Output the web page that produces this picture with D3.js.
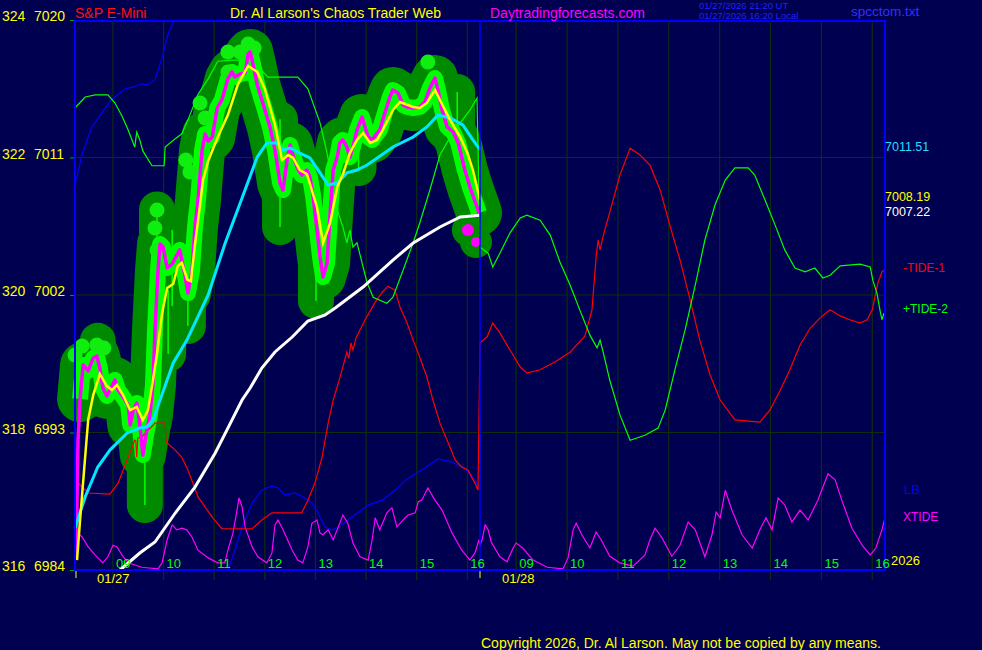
<!DOCTYPE html>
<html><head><meta charset="utf-8">
<script src="https://cdn.jsdelivr.net/npm/d3@7"></script>
<style>
html,body{margin:0;padding:0;background:#000050;}
svg{display:block;}
text{font-family:"Liberation Sans",Arial,sans-serif;}
</style></head><body>
<svg id="c" width="982" height="650"></svg>
<script>
// ---------- DATA ----------
const priceTicks=[6984,6993,7002,7011,7020];
const altTicks=[316,318,320,322,324];
const hours=[9,10,11,12,13,14,15,16];
const hourLabels=["09","10","11","12","13","14","15","16"];
const dates=["01/27","01/28"];
const lastValues={cyan:7011.51,yellow:7008.19,white:7007.22};

// price (close) day 1 [hour, price]
const price=[[8.27,6984.65],[8.31,6992.51],[8.35,6995.19],[8.41,6997.42],[8.51,6997.03],[8.61,6997.88],[8.68,6998.01],[8.74,6997.22],[8.80,6995.91],[8.88,6995.39],[8.94,6995.78],[9.04,6996.44],[9.10,6995.78],[9.20,6995.32],[9.30,6994.80],[9.34,6993.49],[9.40,6994.47],[9.47,6994.93],[9.53,6993.49],[9.59,6991.53],[9.67,6993.16],[9.73,6994.15],[9.79,6996.11],[9.83,6999.71],[9.89,7003.64],[9.93,7005.34],[9.99,7005.14],[10.07,7003.77],[10.17,7004.03],[10.23,7004.42],[10.32,7004.95],[10.42,7003.31],[10.48,7002.13],[10.56,7003.57],[10.62,7006.45],[10.68,7008.22],[10.76,7011.49],[10.82,7012.54],[10.88,7012.08],[10.96,7012.34],[11.06,7014.24],[11.15,7014.76],[11.27,7016.14],[11.35,7016.60],[11.41,7016.27],[11.51,7016.47],[11.61,7016.53],[11.67,7017.78],[11.71,7017.91],[11.77,7017.06],[11.85,7015.75],[11.96,7014.57],[12.10,7013.00],[12.20,7011.49],[12.30,7009.33],[12.36,7008.87],[12.44,7010.84],[12.50,7011.82],[12.56,7011.10],[12.64,7010.31],[12.73,7009.85],[12.83,7010.18],[12.89,7009.72],[12.95,7008.55],[13.03,7006.25],[13.09,7004.49],[13.15,7003.18],[13.23,7004.10],[13.29,7007.37],[13.35,7010.18],[13.43,7011.03],[13.48,7011.95],[13.54,7012.15],[13.62,7011.69],[13.68,7011.03],[13.74,7011.69],[13.82,7012.80],[13.92,7013.65],[13.98,7013.00],[14.04,7012.34],[14.12,7012.15],[14.22,7012.60],[14.27,7012.80],[14.37,7013.91],[14.47,7014.96],[14.53,7015.42],[14.63,7015.22],[14.73,7014.44],[14.81,7014.31],[14.93,7014.24],[15.06,7014.31],[15.16,7014.63],[15.26,7015.55],[15.36,7016.20],[15.42,7015.42],[15.50,7014.11],[15.60,7013.00],[15.72,7012.67],[15.82,7011.95],[15.95,7010.18],[16.05,7009.07],[16.19,7007.76],[16.23,7007.37]];
const haloStart=2; // first bars that carry the halo

// bar spikes [hour, low, high]
const spikes=[[9.63,6988.25,6993.16],[10.09,6998.14,7002.33],[10.17,7001.28,7006.25],[10.48,6999.97,7003.64],[12.30,7006.45,7013.5],[13.01,7001.61,7008.22],[15.80,7011.49,7015.29],[9.87,6998.14,7007.6],[8.70,6995.5,6999.0],[13.85,7010.3,7013.9]];

// bright swing dots [hour, price]
const swingDots=[[8.25,6998.07],[8.39,6998.66],[8.68,6998.73],[8.82,6998.53],[9.87,7007.56],[9.83,7006.39],[9.87,7004.95],[10.44,7010.84],[10.52,7010.05],[10.72,7014.57],[10.82,7013.59],[11.27,7016.60],[11.27,7017.91],[11.51,7017.91],[11.67,7018.43],[11.79,7018.17],[15.22,7017.25]];
const endDots=[[16.01,7006.25],[16.17,7005.47]];

// yellow average
const yellowAvg=[[8.29,6984.65],[8.35,6987.27],[8.43,6990.55],[8.51,6993.82],[8.61,6995.45],[8.74,6996.83],[8.88,6996.04],[8.98,6995.78],[9.08,6996.11],[9.20,6995.45],[9.34,6994.47],[9.47,6994.67],[9.59,6993.82],[9.69,6994.47],[9.79,6996.44],[9.87,6998.14],[9.97,7000.82],[10.07,7002.46],[10.19,7002.72],[10.28,7003.9],[10.36,7004.1],[10.47,7003.0],[10.54,7002.9],[10.62,7005.3],[10.72,7007.9],[10.78,7009.53],[10.88,7010.77],[11.07,7012.34],[11.27,7013.78],[11.47,7015.81],[11.67,7016.99],[11.85,7016.60],[12.00,7015.48],[12.20,7013.13],[12.34,7010.84],[12.46,7011.16],[12.56,7010.97],[12.69,7010.18],[12.83,7009.92],[13.03,7007.76],[13.15,7005.40],[13.29,7006.71],[13.43,7009.07],[13.55,7009.99],[13.68,7011.29],[13.82,7012.15],[13.94,7012.60],[14.08,7011.95],[14.22,7012.15],[14.33,7012.80],[14.53,7014.11],[14.67,7014.63],[14.93,7014.31],[15.06,7014.24],[15.20,7014.57],[15.36,7015.42],[15.46,7014.76],[15.66,7013.45],[15.86,7012.34],[16.00,7011.29],[16.11,7010.18],[16.25,7008.19]];

// cyan average
const cyanAvg=[[8.25,6986.75],[8.45,6988.78],[8.70,6990.74],[8.94,6991.85],[9.28,6992.97],[9.53,6993.29],[9.67,6993.36],[9.79,6993.82],[9.93,6995.13],[10.19,6997.55],[10.46,6999.05],[10.88,7002.00],[11.21,7005.34],[11.55,7008.35],[11.85,7011.03],[12.04,7011.95],[12.24,7011.95],[12.36,7011.49],[12.50,7011.62],[12.69,7011.29],[12.89,7010.97],[13.09,7009.99],[13.25,7009.20],[13.43,7009.33],[13.62,7009.99],[13.82,7010.18],[14.02,7010.51],[14.22,7010.97],[14.53,7011.69],[14.93,7012.34],[15.20,7013.00],[15.42,7013.78],[15.66,7013.59],[15.91,7013.13],[16.11,7012.15],[16.25,7011.51]];

// white average
const whiteAvg=[[9.14,6984.00],[9.53,6985.11],[9.83,6985.83],[10.23,6987.73],[10.62,6989.43],[11.02,6991.66],[11.27,6993.29],[11.55,6995.13],[11.71,6995.91],[11.94,6997.22],[12.20,6998.27],[12.54,6999.25],[12.85,7000.30],[13.19,7000.69],[13.39,7001.15],[13.94,7002.52],[14.53,7004.29],[14.93,7005.40],[15.46,7006.45],[15.86,7007.11],[16.25,7007.22]];

// -TIDE-1 (0..100 indicator units)
const tide1Day1=[[8.25,16.4],[8.51,14.0],[8.94,13.8],[9.10,15.8],[9.30,20.5],[9.43,23.6],[9.45,23.5],[9.47,20.5],[9.49,24.0],[9.57,24.2],[9.83,26.7],[10.03,26.7],[10.05,23.3],[10.23,21.8],[10.36,20.5],[10.48,18.2],[10.68,13.3],[10.96,9.6],[11.15,7.5],[11.75,7.5],[11.94,9.1],[12.14,10.4],[12.73,10.4],[12.85,12.7],[12.99,15.8],[13.13,20.5],[13.25,26.7],[13.35,30.9],[13.48,34.9],[13.58,38.2],[13.62,39.6],[13.66,38.5],[13.70,41.3],[13.74,40.0],[13.80,42.2],[13.98,45.5],[14.18,48.7],[14.32,50.5],[14.43,51.6],[14.57,50.9],[14.67,47.8],[14.81,44.9],[14.93,41.8],[15.06,38.7],[15.20,35.1],[15.32,30.9],[15.46,26.7],[15.60,23.6],[15.76,20.0],[15.89,18.7],[16.01,18.2],[16.15,15.8],[16.21,14.5]];
const tide1Day2=[[8.29,41.3],[8.43,42.4],[8.54,44.9],[8.68,43.1],[8.88,40.0],[9.08,36.9],[9.21,35.8],[9.47,36.4],[9.76,37.8],[10.06,39.6],[10.35,42.5],[10.49,47.3],[10.57,56.7],[10.61,60.0],[10.65,58.2],[10.71,60.7],[10.88,66.4],[11.04,71.8],[11.24,76.7],[11.43,75.5],[11.63,73.6],[11.83,69.1],[12.02,62.7],[12.22,56.4],[12.42,49.1],[12.61,41.8],[12.81,35.5],[13.01,30.9],[13.30,27.3],[13.79,26.9],[13.99,29.1],[14.19,32.7],[14.38,36.4],[14.58,40.9],[14.78,44.0],[14.97,45.8],[15.17,47.3],[15.37,46.2],[15.56,45.5],[15.76,44.9],[15.90,45.5],[16.00,47.3],[16.05,49.6],[16.11,52.2],[16.19,54.2],[16.23,54.5]];

// +TIDE-2
const tide2Day1=[[8.25,84.0],[8.45,86.0],[8.65,86.4],[8.90,86.4],[9.04,84.9],[9.18,82.5],[9.30,80.0],[9.43,76.9],[9.47,79.6],[9.53,78.2],[9.59,76.2],[9.77,73.5],[10.01,73.5],[10.03,76.9],[10.23,78.4],[10.36,79.3],[10.48,81.8],[10.68,86.5],[10.88,89.3],[11.07,92.5],[11.35,92.7],[11.75,92.7],[12.06,89.6],[12.65,89.6],[12.85,87.5],[13.09,81.3],[13.23,75.8],[13.43,65.5],[13.54,62.4],[13.62,59.5],[13.68,61.8],[13.74,58.7],[13.82,59.5],[14.02,52.2],[14.14,49.6],[14.41,48.5],[14.53,49.6],[14.73,54.5],[14.93,59.5],[15.06,63.1],[15.26,69.1],[15.46,75.5],[15.66,78.7],[15.86,81.3],[16.05,83.6],[16.19,85.8]];
const tide2Day2=[[8.29,58.7],[8.45,57.6],[8.54,55.1],[8.68,57.6],[8.88,61.3],[9.08,64.0],[9.21,64.5],[9.47,63.6],[9.67,60.9],[9.86,56.0],[10.06,51.8],[10.25,47.3],[10.45,42.7],[10.59,40.4],[10.65,41.8],[10.71,39.6],[10.84,34.5],[11.04,28.2],[11.24,23.6],[11.53,24.5],[11.79,25.8],[11.93,29.1],[12.12,36.4],[12.32,43.6],[12.52,51.8],[12.71,60.0],[12.91,66.4],[13.11,70.9],[13.30,73.1],[13.56,73.1],[13.69,71.8],[13.89,67.3],[14.09,62.7],[14.28,58.2],[14.48,54.9],[14.68,54.2],[14.87,54.9],[15.03,53.1],[15.17,53.6],[15.37,55.3],[15.76,55.6],[15.96,55.1],[16.01,52.7],[16.09,50.4],[16.15,47.3],[16.19,45.5],[16.23,46.7]];

// LB (wraps past the top of its range)
const lbUpper=[[8.25,70.0],[8.39,75.6],[8.58,80.5],[8.78,83.1],[8.98,85.6],[9.24,87.5],[9.40,87.8],[9.57,88.4],[9.67,88.2],[9.83,89.1],[9.97,93.1],[10.09,97.5],[10.21,100]];
const lbLower=[[11.27,0],[11.41,3.6],[11.55,7.8],[11.75,12.2],[11.94,14.5],[12.14,15.3],[12.26,14.9],[12.40,13.6],[12.60,14.0],[12.79,13.1],[12.93,12.2],[13.05,10.4],[13.19,7.8],[13.33,7.3],[13.45,7.8],[13.64,9.1],[13.84,10.4],[14.04,11.8],[14.32,12.7],[14.57,14.5],[14.83,16.7],[15.10,18.2],[15.42,20.2],[15.70,19.6],[15.95,18.5],[16.15,16.4],[16.21,15.1]];

// XTIDE
const xtideDay1=[[8.25,6.7],[8.31,6.7],[8.39,6.0],[8.51,4.2],[8.65,2.7],[8.80,1.3],[8.90,2.4],[9.00,4.5],[9.08,4.2],[9.18,2.7],[9.30,1.3],[9.57,0.5],[9.89,0.2],[9.97,1.3],[10.07,5.5],[10.17,8.2],[10.26,7.3],[10.36,7.6],[10.46,7.3],[10.56,6.0],[10.68,3.6],[10.88,2.2],[11.07,1.3],[11.21,1.3],[11.27,3.6],[11.37,6.7],[11.45,10.9],[11.49,13.1],[11.55,11.5],[11.61,7.8],[11.75,4.2],[11.86,2.4],[12.04,1.3],[12.14,3.1],[12.20,8.2],[12.26,9.1],[12.36,7.3],[12.54,3.6],[12.65,1.8],[12.75,1.3],[12.85,4.2],[12.93,8.5],[13.03,9.1],[13.09,6.7],[13.15,6.4],[13.25,7.3],[13.35,5.5],[13.45,7.8],[13.54,10.0],[13.64,8.5],[13.74,4.9],[13.88,2.4],[14.04,1.8],[14.12,5.5],[14.18,9.5],[14.27,7.3],[14.41,10.4],[14.51,11.3],[14.61,7.8],[14.73,9.1],[14.83,10.0],[14.97,10.4],[15.03,12.4],[15.10,12.7],[15.22,14.9],[15.36,12.7],[15.50,10.9],[15.70,6.7],[15.89,3.6],[16.05,1.8],[16.15,3.1],[16.23,5.5]];
const xtideDay2=[[8.29,4.5],[8.33,5.5],[8.39,8.2],[8.45,7.3],[8.51,5.1],[8.68,2.4],[8.82,1.5],[8.94,4.0],[9.00,4.9],[9.13,4.0],[9.33,1.8],[9.61,0.5],[9.92,0.2],[10.02,2.2],[10.12,7.3],[10.18,8.5],[10.29,6.4],[10.45,4.0],[10.57,6.9],[10.67,5.5],[10.84,2.5],[11.04,1.3],[11.30,0.7],[11.53,2.7],[11.63,5.5],[11.73,7.6],[11.87,5.8],[12.06,2.5],[12.22,4.5],[12.38,8.7],[12.52,7.3],[12.71,2.4],[12.85,6.4],[12.93,10.5],[13.01,9.5],[13.11,14.5],[13.24,10.9],[13.44,6.4],[13.64,4.0],[13.79,7.3],[13.91,9.5],[14.03,7.3],[14.15,13.1],[14.28,11.8],[14.42,8.7],[14.58,10.9],[14.74,9.1],[14.93,12.7],[15.13,17.5],[15.27,16.4],[15.40,12.7],[15.60,7.6],[15.80,4.5],[15.96,2.7],[16.07,4.0],[16.19,7.3],[16.25,9.5]];

// ---------- DRAW ----------
const BG="#000050";
const svg=d3.select("#c");
svg.append("rect").attr("width",982).attr("height",650).attr("fill",BG);

const X1=d3.scaleLinear().domain([8.25,16.25]).range([75,480]);
const X2=d3.scaleLinear().domain([8.25,16.25]).range([478,885]);
const YP=d3.scaleLinear().domain([6984,7020]).range([570,20]);
const YI=d3.scaleLinear().domain([0,100]).range([570,20]);
const GRID="#0f2c0f";

// grid
const grid=svg.append("g");
[X1,X2].forEach(X=>{
  hours.forEach(h=>grid.append("line").attr("x1",X(h)).attr("x2",X(h)).attr("y1",20).attr("y2",580).attr("stroke",GRID).attr("stroke-width",1.2));
});
priceTicks.slice(1,4).forEach(p=>grid.append("line").attr("x1",75).attr("x2",885).attr("y1",YP(p)).attr("y2",YP(p)).attr("stroke",GRID).attr("stroke-width",1.2));

const lineP=d3.line().x(d=>X1(d[0])).y(d=>YP(d[1]));
const pix=d3.line();
const bars=price.slice(haloStart);

// halo
const halo=svg.append("g");
halo.append("path").attr("d",lineP(bars)).attr("fill","none").attr("stroke","#008a00").attr("stroke-width",46).attr("stroke-linejoin","round").attr("stroke-linecap","round");
spikes.forEach(s=>halo.append("line").attr("x1",X1(s[0])).attr("x2",X1(s[0])).attr("y1",YP(s[1])).attr("y2",YP(s[2])).attr("stroke","#008a00").attr("stroke-width",36).attr("stroke-linecap","round"));
endDots.forEach(d=>halo.append("circle").attr("cx",X1(d[0])).attr("cy",YP(d[1])).attr("r",16).attr("fill","#008a00"));
// bright bars
halo.append("path").attr("d",lineP(bars)).attr("fill","none").attr("stroke","#00ff00").attr("stroke-width",16).attr("stroke-linejoin","round");
spikes.forEach(s=>halo.append("line").attr("x1",X1(s[0])).attr("x2",X1(s[0])).attr("y1",YP(s[1])).attr("y2",YP(s[2])).attr("stroke","#00ff00").attr("stroke-width",1.5));
swingDots.forEach(d=>halo.append("circle").attr("cx",X1(d[0])).attr("cy",YP(d[1])).attr("r",7.5).attr("fill","#10ee10"));

// indicator lines
function two(d1,d2){return d1.map(d=>[X1(d[0]),YI(d[1])]).concat(d2.map(d=>[X2(d[0]),YI(d[1])]));}
svg.append("path").attr("d",pix(lbUpper.map(d=>[X1(d[0]),YI(d[1])]))).attr("fill","none").attr("stroke","#0000ff").attr("stroke-width",1.2);
svg.append("path").attr("d",pix(lbLower.map(d=>[X1(d[0]),YI(d[1])]))).attr("fill","none").attr("stroke","#0000ff").attr("stroke-width",1.2);
svg.append("path").attr("d",pix(two(xtideDay1,xtideDay2))).attr("fill","none").attr("stroke","#ff00ff").attr("stroke-width",1.2);
svg.append("path").attr("d",pix(two(tide1Day1,tide1Day2))).attr("fill","none").attr("stroke","#ff0000").attr("stroke-width",1.2);
svg.append("path").attr("d",pix(two(tide2Day1,tide2Day2))).attr("fill","none").attr("stroke","#00ff00").attr("stroke-width",1.2);

// averages & price
svg.append("path").attr("d",lineP(whiteAvg)).attr("fill","none").attr("stroke","#ffffff").attr("stroke-width",3);
svg.append("path").attr("d",lineP(price)).attr("fill","none").attr("stroke","#ff00ff").attr("stroke-width",3.5).attr("stroke-linejoin","round");
svg.append("path").attr("d",lineP(cyanAvg)).attr("fill","none").attr("stroke","#00e8ff").attr("stroke-width",3);
svg.append("path").attr("d",lineP(yellowAvg)).attr("fill","none").attr("stroke","#ffff00").attr("stroke-width",2.5);
endDots.forEach((d,i)=>svg.append("circle").attr("cx",X1(d[0])).attr("cy",YP(d[1])).attr("r",i?5:6).attr("fill","#ff00ff"));

// frame
svg.append("rect").attr("x",75).attr("y",21).attr("width",810).attr("height",549).attr("fill","none").attr("stroke","#0000ff").attr("stroke-width",2);
svg.append("line").attr("x1",480).attr("x2",480).attr("y1",20).attr("y2",570).attr("stroke","#0000ff").attr("stroke-width",1.5);

// left axis
const yAxis=d3.axisLeft(YP).tickValues(priceTicks).tickSize(4).tickFormat("");
svg.append("g").attr("transform","translate(74,0)").call(yAxis).call(g=>{g.select(".domain").remove();g.selectAll("line").attr("stroke","#00a000");});
const lab=svg.append("g").attr("font-size",14).attr("fill","#ffff00");
priceTicks.forEach((p,i)=>{
  lab.append("text").attr("x",2).attr("y",YP(p)+1).text(altTicks[i]);
  lab.append("text").attr("x",34).attr("y",YP(p)+1).text(p);
});
// hour labels
[X1,X2].forEach(X=>hours.forEach((h,i)=>svg.append("text").attr("x",X(h)+3).attr("y",568).attr("font-size",13).attr("fill","#00ff00").text(hourLabels[i])));
// date labels & ticks
[[X1,dates[0]],[X2,dates[1]]].forEach(([X,d],i)=>{
  svg.append("text").attr("x",X(8.25)+(i?24:22)).attr("y",583).attr("font-size",13).attr("fill","#ffff00").text(d);
  svg.append("line").attr("x1",X(8.25)+(i?2:1)).attr("x2",X(8.25)+(i?2:1)).attr("y1",571).attr("y2",578).attr("stroke","#ffff00").attr("stroke-width",1);
});

// header
const t=(x,y,s,c,str)=>svg.append("text").attr("x",x).attr("y",y).attr("font-size",s).attr("fill",c).text(str);
t(75,18,14,"#ff1010","S&P E-Mini");
t(230,18,14,"#ffff00","Dr. Al Larson's Chaos Trader Web");
t(490,18,14,"#ff00ff","Daytradingforecasts.com");
t(699,9,9.5,"#2020ff","01/27/2026 21:20 UT");
t(699,19,9.5,"#2020ff","01/27/2026 16:20 Local");
t(851,16,13.5,"#3030ff","spcctom.txt");
// right labels
t(885,YP(lastValues.cyan)+1,12.5,"#22ddff",lastValues.cyan.toFixed(2));
t(885,YP(lastValues.yellow)+1,12.5,"#ffff00",lastValues.yellow.toFixed(2));
t(885,YP(lastValues.white)+1,12.5,"#ffffff",lastValues.white.toFixed(2));
t(903,272,12,"#ff0000","-TIDE-1");
t(903,313,12,"#00ff00","+TIDE-2");
t(904,494,13,"#0000ff","LB");
t(903,521,12,"#ff00ff","XTIDE");
t(891,565,13,"#ffff00","2026");
t(481,648,14,"#ffff00","Copyright 2026, Dr. Al Larson. May not be copied by any means.");
</script>
</body></html>
